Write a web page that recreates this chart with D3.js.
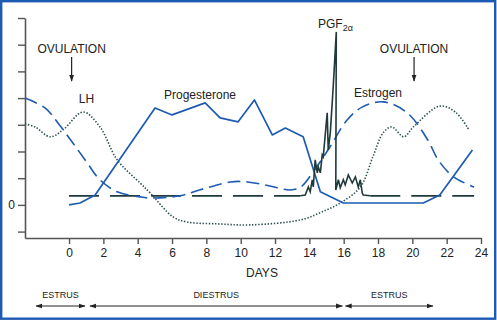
<!DOCTYPE html>
<html>
<head>
<meta charset="utf-8">
<script src="https://cdn.jsdelivr.net/npm/d3@7"></script>
<style>
  html, body { margin: 0; padding: 0; background: #fff; }
  svg { display: block; }
  text { font-family: "Liberation Sans", Arial, Helvetica, sans-serif; fill: #222; }
</style>
</head>
<body>
<svg id="chart" width="497" height="321"></svg>
<script>
// Hormone profiles over the estrous cycle (relative units, days from ovulation)
const dayTicks = [0, 2, 4, 6, 8, 10, 12, 14, 16, 18, 20, 22, 24];
const levelTicks = [-1, 0, 1, 2, 3, 4, 5, 6, 7];

const estrogenDays = [-2.57, -1.4, -0.52, 0.93, 1.8, 2.8, 4.14, 4.72, 6.47, 7.6, 9.4, 10.4, 11.7, 12.9, 13.5, 14.3, 15.2, 16.2, 17.1, 18.3, 19.7, 20.9, 21.5, 22.4, 23.6];
const estrogenVals = [4.0, 3.63, 2.96, 1.69, 0.94, 0.49, 0.30, 0.26, 0.34, 0.56, 0.86, 0.86, 0.71, 0.56, 0.67, 1.31, 2.17, 3.18, 3.67, 3.86, 3.45, 2.43, 1.69, 1.05, 0.67];

const lhDays = [-2.57, -1.98, -1.1, -0.35, 0.82, 1.8, 2.8, 4.14, 4.72, 6.06, 6.88, 8.63, 10.55, 13.5, 14.6, 15.8, 16.97, 17.7, 18.3, 18.8, 19.5, 20.06, 21.6, 22.5, 23.3];
const lhVals = [3.03, 2.92, 2.55, 2.81, 3.48, 2.92, 1.69, 0.82, 0.45, -0.45, -0.64, -0.71, -0.75, -0.56, -0.30, 0.07, 0.67, 1.8, 2.7, 2.92, 2.55, 2.92, 3.7, 3.48, 2.81];

const progDays = [0, 0.64, 1.52, 5.01, 6.0, 7.93, 8.8, 9.85, 10.8, 11.84, 12.6, 13.64, 14.64, 15.98, 20.64, 21.6, 23.5];
const progVals = [0, 0.07, 0.37, 3.63, 3.37, 3.82, 3.26, 3.11, 3.93, 2.62, 2.88, 2.55, 0.49, 0.07, 0.07, 0.37, 2.06];

const pgfDays = [13.47, 13.76, 13.94, 14.05, 14.17, 14.23, 14.34, 14.46, 14.52, 14.64, 14.75, 14.81, 15.04, 15.1, 15.22, 15.39, 15.57, 15.54, 15.69, 15.8, 15.98, 16.09, 16.27, 16.5, 16.68, 16.85, 16.97, 17.08, 17.14, 17.55];
const pgfVals = [0.34, 0.37, 0.67, 0.49, 0.94, 0.67, 1.69, 1.2, 1.42, 1.2, 1.87, 1.8, 3.45, 2.06, 2.7, 4.42, 6.48, 0.56, 0.94, 0.64, 0.94, 0.75, 1.12, 0.82, 1.05, 0.67, 0.94, 0.45, 0.37, 0.34];

const pgfBaseline = 0.34;
const baselineSpans = [[0, 13.47], [17.55, 23.6]];

const ovulationDays = [0.15, 20.1];
const phases = [
  { name: "ESTRUS", from: -1.92, to: 0.93 },
  { name: "DIESTRUS", from: 1.22, to: 15.92 },
  { name: "ESTRUS", from: 16.1, to: 21.2 }
];

const blue = "#1d5bb3";
const dark = "#1e3a3a";
const svg = d3.select("#chart");

const x = d3.scaleLinear().domain([-2.566, 24]).range([25, 481]);
const y = d3.scaleLinear().domain([-1.24, 7]).range([238, 18]);

// frame
svg.append("rect").attr("x", 1.2).attr("y", 1.2).attr("width", 494).attr("height", 317.5)
  .attr("fill", "none").attr("stroke", blue).attr("stroke-width", 2.4);

// axes
const yAxis = svg.append("g").attr("transform", `translate(${x(-2.566)},0)`)
  .call(d3.axisLeft(y).tickValues(levelTicks).tickSize(7).tickSizeOuter(0)
    .tickFormat(d => d === 0 ? "0" : ""));
const xAxis = svg.append("g").attr("transform", `translate(0,${y(-1.24)})`)
  .call(d3.axisBottom(x).tickValues(dayTicks).tickSize(6).tickSizeOuter(0).tickPadding(4));
[yAxis, xAxis].forEach(g => {
  g.select(".domain").attr("stroke", "#555").attr("stroke-width", 1.6);
  g.selectAll(".tick line").attr("stroke", "#555").attr("stroke-width", 1.4);
  g.selectAll(".tick text").style("font-family", "Liberation Sans, Arial, sans-serif")
    .style("font-size", "12px").attr("fill", "#222");
});
yAxis.selectAll(".tick text").attr("x", -10);

const lineSmooth = (xs, ys) => d3.line().curve(d3.curveCatmullRom.alpha(0.5))
  .x((d, i) => x(xs[i])).y((d, i) => y(ys[i]))(xs);
const lineStraight = (xs, ys) => d3.line()
  .x((d, i) => x(xs[i])).y((d, i) => y(ys[i]))(xs);

// PGF baseline (long dashes)
baselineSpans.forEach(s => {
  svg.append("path").attr("d", d3.line().x(d => x(d)).y(() => y(pgfBaseline))(s))
    .attr("fill", "none").attr("stroke", dark).attr("stroke-width", 1.8)
    .attr("stroke-dasharray", "30,11");
});

// LH (dotted)
svg.append("path").attr("d", lineSmooth(lhDays, lhVals))
  .attr("fill", "none").attr("stroke", "#2b5050").attr("stroke-width", 1.6)
  .attr("stroke-dasharray", "1.4,1.7");

// Estrogen (dashed)
svg.append("path").attr("d", lineSmooth(estrogenDays, estrogenVals))
  .attr("fill", "none").attr("stroke", blue).attr("stroke-width", 1.6)
  .attr("stroke-dasharray", "13,6");

// Progesterone (solid)
svg.append("path").attr("d", lineStraight(progDays, progVals))
  .attr("fill", "none").attr("stroke", blue).attr("stroke-width", 1.7)
  .attr("stroke-linejoin", "round");

// PGF2alpha pulses
svg.append("path").attr("d", lineStraight(pgfDays, pgfVals))
  .attr("fill", "none").attr("stroke", dark).attr("stroke-width", 1.6)
  .attr("stroke-linejoin", "miter");

// labels
const label = (t, cx, by, size, anchor = "middle") => svg.append("text")
  .attr("x", cx).attr("y", by).attr("text-anchor", anchor)
  .style("font-size", size + "px").text(t);

label("LH", 86.5, 103, 12);
label("Progesterone", 200, 99, 12);
label("Estrogen", 378, 97, 12);
label("DAYS", 262, 277, 12);

const pgf = svg.append("text").attr("x", 318).attr("y", 28).style("font-size", "12px");
pgf.append("tspan").text("PGF");
pgf.append("tspan").attr("dy", 3).style("font-size", "9px").text("2α");

// ovulation markers
const defs = svg.append("defs");
defs.append("marker").attr("id", "head").attr("viewBox", "0 0 10 10")
  .attr("refX", 9).attr("refY", 5).attr("markerWidth", 7).attr("markerHeight", 7)
  .attr("markerUnits", "userSpaceOnUse").attr("orient", "auto-start-reverse")
  .append("path").attr("d", "M0,1.5 L10,5 L0,8.5 Z").attr("fill", "#222");

ovulationDays.forEach(dd => {
  const cx = x(dd);
  label("OVULATION", cx, 53, 12);
  svg.append("line").attr("x1", cx).attr("x2", cx).attr("y1", 57).attr("y2", 81)
    .attr("stroke", "#222").attr("stroke-width", 1.2).attr("marker-end", "url(#head)");
});

// cycle phases
phases.forEach(p => {
  const x1 = x(p.from), x2 = x(p.to);
  svg.append("line").attr("x1", x1).attr("x2", x2).attr("y1", 306).attr("y2", 306)
    .attr("stroke", "#222").attr("stroke-width", 1.1)
    .attr("marker-start", "url(#head)").attr("marker-end", "url(#head)");
  label(p.name, (x1 + x2) / 2, 298, 9);
});
</script>
</body>
</html>
